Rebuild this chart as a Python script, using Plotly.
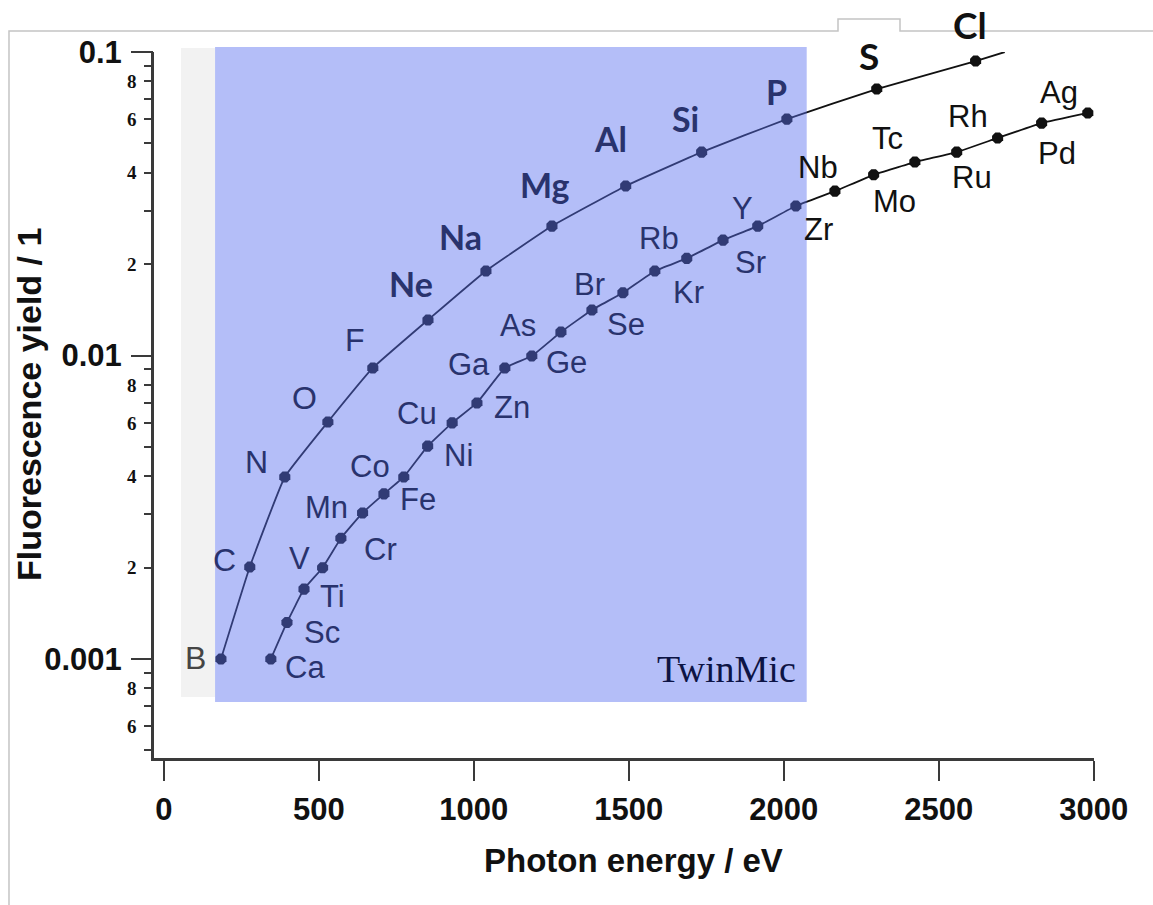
import math
import plotly.graph_objects as go

# ---------------- data ----------------
k_elements = ["B", "C", "N", "O", "F", "Ne", "Na", "Mg", "Al", "Si", "P", "S", "Cl"]
k_energy = [184, 277, 390, 529, 674, 852, 1039, 1252, 1490, 1735, 2010, 2300, 2619]
k_yield = [0.00100, 0.00201, 0.00398, 0.00604, 0.0091, 0.0131, 0.0190, 0.0267,
           0.0362, 0.0468, 0.0601, 0.0755, 0.0934]
k_curve_end_energy = [2713]
k_curve_end_yield = [0.1]

l_elements = ["Ca", "Sc", "Ti", "V", "Cr", "Mn", "Fe", "Co", "Ni", "Cu", "Zn", "Ga",
              "Ge", "As", "Se", "Br", "Kr", "Rb", "Sr", "Y", "Zr", "Nb", "Mo", "Tc",
              "Ru", "Rh", "Pd", "Ag"]
l_energy = [345, 397, 452, 512, 571, 641, 710, 774, 851, 930, 1010, 1100, 1187, 1281,
            1381, 1481, 1584, 1687, 1804, 1916, 2039, 2165, 2290, 2423, 2558, 2690,
            2832, 2981]
l_yield = [0.00100, 0.00132, 0.00170, 0.00200, 0.00250, 0.00303, 0.00350, 0.00398,
           0.00503, 0.00600, 0.00698, 0.0091, 0.00996, 0.01195, 0.01413, 0.0161,
           0.0190, 0.0209, 0.0240, 0.0267, 0.0311, 0.0348, 0.0394, 0.0434, 0.0468,
           0.0521, 0.0583, 0.0630]

gray_window = [55, 165]        # eV
twinmic_window = [165, 2074]   # eV

x_ticks = [0, 500, 1000, 1500, 2000, 2500, 3000]
y_major = [0.001, 0.01, 0.1]
y_major_text = ["0.001", "0.01", "0.1"]
y_minor_labeled = [0.0006, 0.0008, 0.002, 0.004, 0.006, 0.008, 0.02, 0.04, 0.06, 0.08]
y_minor_labeled_text = ["6", "8", "2", "4", "6", "8", "2", "4", "6", "8"]
y_minor_plain = [0.0005, 0.0007, 0.0009, 0.003, 0.005, 0.007, 0.009,
                 0.03, 0.05, 0.07, 0.09]

# ---------------- label styling (pixel offsets from each point) ----------------
k_shift = [(-25, 1), (-25, 7), (-28, 15), (-23, 24), (-18, 28), (-17, 36), (-25, 34),
           (-7, 42), (-15, 47), (-16, 34), (-10, 28), (-8, 34), (-6, 37)]
l_shift = [(34, -8), (35, -10), (28, -7), (-23, 9), (40, -11), (-36, 5), (34, -6),
           (-34, 10), (31, -9), (-35, 9), (35, -5), (-36, 3), (35, -6), (-43, 7),
           (34, -15), (-33, 8), (34, -22), (-28, 20), (27, -22), (-15, 18), (23, -24),
           (-17, 24), (21, -27), (-27, 24), (15, -25), (-30, 21), (15, -30), (-29, 20)]

ARIAL = "Liberation Sans, Arial, sans-serif"
CAL = "Lato, 'Noto Sans', sans-serif"
SERIF = "Liberation Serif, 'Times New Roman', serif"
NAVY = "#29336d"
INK = "#111111"
AXC = "#3a3a3a"

W, H = 1153, 905
ML, MR, MT, MB = 154, 59, 52, 147
PW, PH = W - ML - MR, H - MT - MB
X_RANGE = [-32, 3001]
Y_RANGE = [math.log10(0.000472), -0.9999]
PX_PER_EV = PW / (X_RANGE[1] - X_RANGE[0])


def px_x(px):
    return (px - ML) / PW


def px_y(py):
    return (H - MB - py) / PH


def label_color(energy, dx):
    xe = energy + dx / PX_PER_EV
    if gray_window[0] <= xe < gray_window[1]:
        return "#454545"
    if twinmic_window[0] <= xe < twinmic_window[1]:
        return NAVY
    return INK


fig = go.Figure()

LINE = dict(color=INK, width=1.8, shape="spline", smoothing=0.3)
MARK = dict(symbol="octagon", size=12, color=INK)

# K-shell curve (with extension past Cl)
fig.add_trace(go.Scatter(
    x=k_energy + k_curve_end_energy, y=k_yield + k_curve_end_yield,
    mode="lines", line=LINE, hoverinfo="skip", cliponaxis=False))
fig.add_trace(go.Scatter(
    x=k_energy, y=k_yield, mode="markers", text=k_elements,
    marker=MARK, cliponaxis=False))

# L-shell curve on the overlaying axis (carries the major decade labels)
fig.add_trace(go.Scatter(
    x=l_energy, y=l_yield, mode="lines+markers", text=l_elements, yaxis="y2",
    line=LINE, marker=MARK, cliponaxis=False))

annotations = []
for i, (el, e, yv) in enumerate(zip(k_elements, k_energy, k_yield)):
    dx, dy = k_shift[i]
    if el in ("B", "C", "N", "O", "F"):
        fam, size, wt = ARIAL, 32, "normal"
    elif el in ("S", "Cl"):
        fam, size, wt = CAL, 37, "bold"
    else:
        fam, size, wt = CAL, 34, "bold"
    annotations.append(dict(
        x=e, y=math.log10(yv), xref="x", yref="y", text=el, showarrow=False,
        xshift=dx, yshift=dy, xanchor="center", yanchor="middle",
        font=dict(family=fam, size=size, color=label_color(e, dx), weight=wt)))

for i, (el, e, yv) in enumerate(zip(l_elements, l_energy, l_yield)):
    dx, dy = l_shift[i]
    annotations.append(dict(
        x=e, y=math.log10(yv), xref="x", yref="y", text=el, showarrow=False,
        xshift=dx, yshift=dy, xanchor="center", yanchor="middle",
        font=dict(family=ARIAL, size=31, color=label_color(e, dx))))

annotations.append(dict(
    x=twinmic_window[1], y=math.log10(0.00093), xref="x", yref="y", text="TwinMic",
    showarrow=False, xanchor="right", yanchor="middle", xshift=-9,
    font=dict(family=SERIF, size=38, color="#0d1445")))

annotations.append(dict(
    x=px_x(29), y=0.5, xref="paper", yref="paper", text="Fluorescence yield / 1",
    textangle=-90, showarrow=False, xanchor="center", yanchor="middle",
    font=dict(family=ARIAL, size=34, color=INK, weight="bold")))
annotations.append(dict(
    x=px_x(633), y=px_y(860), xref="paper", yref="paper", text="Photon energy / eV",
    showarrow=False, xanchor="center", yanchor="middle",
    font=dict(family=ARIAL, size=33, color=INK, weight="bold")))

shapes = [
    dict(type="rect", xref="x", yref="paper", x0=gray_window[0], x1=gray_window[1],
         y0=px_y(697), y1=px_y(48), fillcolor="#f2f2f2", line=dict(width=0),
         layer="below"),
    dict(type="rect", xref="x", yref="paper", x0=twinmic_window[0], x1=twinmic_window[1],
         y0=px_y(702), y1=px_y(47), fillcolor="rgb(88,110,240)", opacity=0.45,
         line=dict(width=0), layer="above"),
]
# slide frame lines of the original screenshot
frame_pts = [(9, 905), (9, 31), (838, 31), (838, 19), (900, 19), (900, 31), (1153, 31)]
path = "M " + " L ".join(f"{px_x(a):.5f},{px_y(b):.5f}" for a, b in frame_pts)
shapes.append(dict(type="path", xref="paper", yref="paper", path=path,
                   line=dict(color="#c4c4c4", width=1.5), layer="above"))

fig.update_layout(
    width=W, height=H, margin=dict(l=ML, r=MR, t=MT, b=MB),
    paper_bgcolor="white", plot_bgcolor="white", showlegend=False,
    annotations=annotations, shapes=shapes,
    xaxis=dict(range=X_RANGE, tickmode="array", tickvals=x_ticks,
               ticks="outside", ticklen=20, tickwidth=2, tickcolor=AXC,
               showline=True, linecolor=AXC, linewidth=2.5, showgrid=False,
               zeroline=False, ticklabelstandoff=2,
               tickfont=dict(family=ARIAL, size=31, color=INK, weight="bold")),
    yaxis=dict(type="log", range=Y_RANGE, tickmode="array",
               tickvals=y_minor_labeled, ticktext=y_minor_labeled_text,
               ticks="outside", ticklen=7, tickwidth=2, tickcolor=AXC,
               minor=dict(tickmode="array", tickvals=y_minor_plain, ticks="outside",
                          ticklen=7, tickwidth=2, tickcolor=AXC, showgrid=False),
               showline=True, linecolor=AXC, linewidth=2.5, showgrid=False,
               zeroline=False, ticklabelstandoff=4,
               tickfont=dict(family=SERIF, size=19, color=INK, weight="bold")),
    yaxis2=dict(type="log", range=Y_RANGE, overlaying="y", side="left", anchor="x",
                tickmode="array", tickvals=y_major, ticktext=y_major_text,
                ticks="outside", ticklen=22, tickwidth=2, tickcolor=AXC,
                showline=False, showgrid=False, zeroline=False, ticklabelstandoff=3,
                tickfont=dict(family=ARIAL, size=31, color=INK, weight="bold")),
)

fig.write_html("out.html")
